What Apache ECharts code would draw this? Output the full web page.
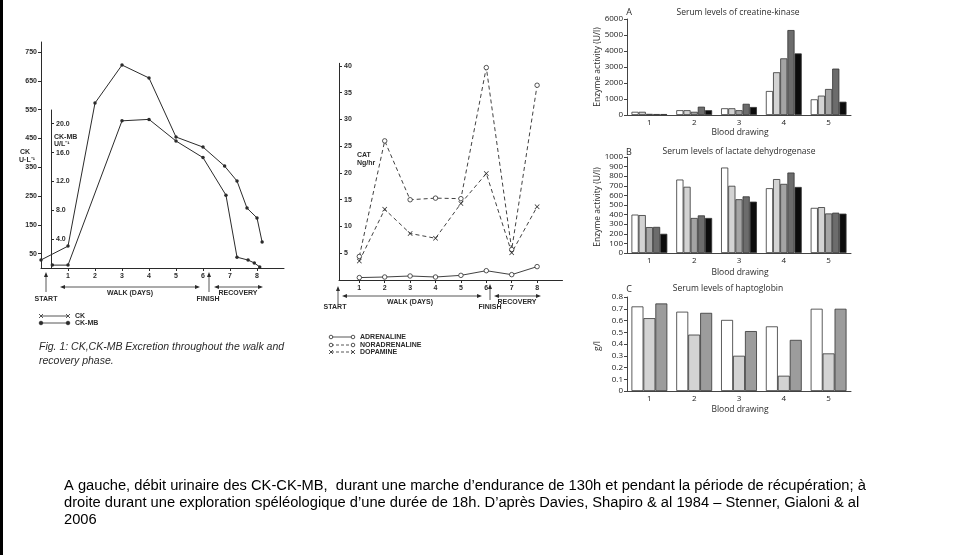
<!DOCTYPE html>
<html><head><meta charset="utf-8">
<script src="https://cdn.jsdelivr.net/npm/echarts@6/dist/echarts.min.js"></script>
<style>html,body{margin:0;padding:0;background:#fff}#c{width:954px;height:555px}</style>
</head><body><div id="c"></div>
<script>
// ---------- DATA ----------
// Left chart (Davies): days vs CK / CK-MB
const ckDays = [0, 1, 2, 3, 4, 5, 6, 6.8, 7.26, 7.63, 8.0, 8.19];
const ckValues = [28, 76, 573, 705, 660, 455, 420, 354, 302, 208, 174, 90];
const ckmbDays = [0.42, 1, 3, 4, 5, 6, 6.85, 7.26, 7.67, 7.9, 8.1];
const ckmbValues = [0.4, 0.4, 20.4, 20.6, 17.6, 15.3, 10.1, 1.5, 1.1, 0.7, 0.15];
const ckTicks = [50, 150, 250, 350, 450, 550, 650, 750];
const ckmbTicks = [4, 8, 12, 16, 20];
const dayTicks = [1, 2, 3, 4, 5, 6, 7, 8];
// Middle chart: catecholamines (Ng/hr)
const catDays = [1, 2, 3, 4, 5, 6, 7, 8];
const adrenaline = [0.45, 0.56, 0.75, 0.56, 0.87, 1.74, 1.0, 2.5];
const noradrenaline = [4.4, 26.0, 15.0, 15.3, 15.2, 39.7, 5.7, 36.4];
const dopamine = [3.55, 13.2, 8.7, 7.8, 14.3, 19.9, 5.1, 13.7];
// Right charts (Stenner)
const drawings = ['1', '2', '3', '4', '5'];
const ckA1 = [200, 300, 420, 1500, 980];
const ckA2 = [200, 300, 420, 2670, 1210];
const ckA3 = [70, 200, 300, 3540, 1625];
const ckA4 = [60, 520, 700, 5310, 2900];
const ckA5 = [60, 300, 500, 3850, 830];
const ldhB1 = [400, 765, 890, 675, 470];
const ldhB2 = [395, 690, 700, 770, 478];
const ldhB3 = [270, 365, 560, 720, 412];
const ldhB4 = [272, 392, 590, 838, 420];
const ldhB5 = [200, 365, 535, 688, 410];
const hpC1 = [0.72, 0.675, 0.605, 0.55, 0.70];
const hpC2 = [0.62, 0.48, 0.30, 0.13, 0.32];
const hpC3 = [0.745, 0.665, 0.51, 0.435, 0.70];

// ---------- STYLE ----------
const INK = '#2b2b2b';
const barColors = ['#ffffff', '#d3d3d3', '#a4a4a4', '#6c6c6c', '#0c0c0c'];
const smallBold = 'bold 7px "Liberation Sans", Arial, sans-serif';
const rFont = '"Open Sans", sans-serif';
const capFont = '14.7px "Liberation Sans", Arial, sans-serif';
const zip = (a, b) => a.map((v, i) => [v, b[i]]);
const crossPath = 'path://M0,1L1,0L5,4L9,0L10,1L6,5L10,9L9,10L5,6L1,10L0,9L4,5Z';

const chart = echarts.init(document.getElementById('c'), null, {renderer: 'canvas'});

// graphic helpers (annotations only)
function T(x, y, s, font, align, extra, fill) {
  return Object.assign({type: 'text', x: x, y: y, silent: true,
    style: {text: s, font: font, fill: fill || INK, align: align || 'left', verticalAlign: 'middle'}}, extra || {});
}
function L(x1, y1, x2, y2, w, dash) {
  return {type: 'line', silent: true, shape: {x1, y1, x2, y2},
    style: {stroke: INK, lineWidth: w || 1, lineDash: dash || null}};
}
function P(points) { return {type: 'polygon', silent: true, shape: {points}, style: {fill: INK}}; }
function hArrow(x1, x2, y) {
  return [L(x1 + 3, y, x2 - 3, y, 0.8), P([[x1, y], [x1 + 5, y - 2], [x1 + 5, y + 2]]), P([[x2, y], [x2 - 5, y - 2], [x2 - 5, y + 2]])];
}
function vArrow(x, yBottom, yTop) {
  return [L(x, yBottom, x, yTop + 3, 0.8), P([[x, yTop], [x - 2, yTop + 5], [x + 2, yTop + 5]])];
}
function circ(x, y, fill) {
  return {type: 'circle', silent: true, shape: {cx: x, cy: y, r: 1.8}, style: {fill: fill ? INK : '#fff', stroke: INK, lineWidth: 0.8}};
}
function xmark(x, y) { return [L(x - 2, y - 2, x + 2, y + 2, 0.8), L(x - 2, y + 2, x + 2, y - 2, 0.8)]; }

const graphics = [
  {type: 'rect', shape: {x: 0, y: 0, width: 3, height: 555}, style: {fill: '#000'}, silent: true},
  // left chart labels
  T(25, 152, 'CK', smallBold, 'center'), T(27, 160, 'U·L⁻¹', smallBold, 'center'),
  T(54, 137, 'CK-MB', smallBold, 'left'), T(54, 144, 'U/L⁻¹', smallBold, 'left'),
  ...vArrow(46, 292, 272), T(46, 299, 'START', smallBold, 'center'),
  ...hArrow(60, 200, 287), T(130, 293, 'WALK (DAYS)', smallBold, 'center'),
  ...vArrow(209, 292, 272), T(208, 299, 'FINISH', smallBold, 'center'),
  ...hArrow(214, 263, 287), T(238, 293, 'RECOVERY', smallBold, 'center'),
  L(41, 316, 68, 316, 0.8), ...xmark(41, 316), ...xmark(68, 316), T(75, 316, 'CK', smallBold, 'left'),
  L(41, 323, 68, 323, 0.8), circ(41, 323, true), circ(68, 323, true), T(75, 323, 'CK-MB', smallBold, 'left'),
  T(39, 347, 'Fig. 1: CK,CK-MB Excretion throughout the walk and', 'italic 10.5px "Liberation Sans", Arial, sans-serif', 'left'),
  T(39, 361, 'recovery phase.', 'italic 10.5px "Liberation Sans", Arial, sans-serif', 'left'),
  // middle chart labels
  T(357, 155, 'CAT', smallBold, 'left'), T(357, 163, 'Ng/hr', smallBold, 'left'),
  ...vArrow(338, 304, 286), T(335, 307, 'START', smallBold, 'center'),
  ...hArrow(342, 482, 296), T(410, 302, 'WALK (DAYS)', smallBold, 'center'),
  ...vArrow(490, 300, 284), T(490, 307, 'FINISH', smallBold, 'center'),
  ...hArrow(494, 541, 296), T(517, 302, 'RECOVERY', smallBold, 'center'),
  L(331, 337, 353, 337, 0.8), circ(331, 337), circ(353, 337), T(360, 337, 'ADRENALINE', smallBold, 'left'),
  L(331, 345, 353, 345, 0.8, [3, 2]), circ(331, 345), circ(353, 345), T(360, 345, 'NORADRENALINE', smallBold, 'left'),
  L(331, 352, 353, 352, 0.8, [3, 2]), ...xmark(331, 352), ...xmark(353, 352), T(360, 352, 'DOPAMINE', smallBold, 'left'),
  // right charts titles
  T(629, 12, 'A', '9px ' + rFont, 'center'), T(738, 13, 'Serum levels of creatine-kinase', '8.5px ' + rFont, 'center'),
  T(629, 152, 'B', '9px ' + rFont, 'center'), T(739, 152, 'Serum levels of lactate dehydrogenase', '8.5px ' + rFont, 'center'),
  T(629, 289, 'C', '9px ' + rFont, 'center'), T(728, 289, 'Serum levels of haptoglobin', '8.5px ' + rFont, 'center'),
  T(740, 133, 'Blood drawing', '8.5px ' + rFont, 'center'),
  T(740, 273, 'Blood drawing', '8.5px ' + rFont, 'center'),
  T(740, 410, 'Blood drawing', '8.5px ' + rFont, 'center'),
  T(598, 67, 'Enzyme activity (U/l)', '8.5px ' + rFont, 'center', {rotation: Math.PI / 2}),
  T(598, 207, 'Enzyme activity (U/l)', '8.5px ' + rFont, 'center', {rotation: Math.PI / 2}),
  T(598, 346, 'g/l', '8.5px ' + rFont, 'center', {rotation: Math.PI / 2}),
  // caption
  T(64, 486, 'A gauche, débit urinaire des CK-CK-MB,  durant une marche d’endurance de 130h et pendant la période de récupération; à', capFont, 'left', null, '#000'),
  T(64, 503, 'droite durant une exploration spéléologique d’une durée de 18h. D’après Davies, Shapiro & al 1984 – Stenner, Gialoni & al', capFont, 'left', null, '#000'),
  T(64, 520, '2006', capFont, 'left', null, '#000')
];

const axLine = {show: true, lineStyle: {color: INK, width: 1}};
const rAxLine = {show: true, lineStyle: {color: '#444', width: 1}};
const rLabel = {color: '#222', fontSize: 8, fontFamily: 'Open Sans', margin: 4, formatter: v => String(v)};

function barSeries(idx, arrs, colors) {
  return arrs.map((d, i) => ({
    type: 'bar', xAxisIndex: idx, yAxisIndex: idx, data: d, barGap: '0%', barCategoryGap: '20%',
    itemStyle: {color: colors[i], borderColor: '#333', borderWidth: 0.8}, silent: true
  }));
}
const hollow = {color: '#fff', borderColor: INK, borderWidth: 0.8};

const option = {
  animation: false,
  backgroundColor: '#fff',
  grid: [
    {left: 41, top: 42, width: 243, height: 226},          // CK
    {left: 51, top: 110, width: 233, height: 158},         // CK-MB
    {left: 339, top: 63.3, width: 223.5, height: 216.7},   // catecholamines
    {left: 627, top: 19, width: 224, height: 96},          // A
    {left: 627, top: 157, width: 224, height: 96},         // B
    {left: 627, top: 297, width: 224, height: 94}          // C
  ],
  xAxis: [
    {gridIndex: 0, type: 'value', min: 0, max: 9, splitLine: {show: false}, axisLine: axLine,
      axisTick: {show: true, length: 3, customValues: dayTicks, lineStyle: {color: INK}},
      axisLabel: {customValues: dayTicks, color: INK, fontSize: 7, fontWeight: 'bold', margin: 5}},
    {gridIndex: 1, type: 'value', min: (51 - 41) / 27, max: 9, show: false},
    {gridIndex: 2, type: 'value', min: 0.2, max: 9, splitLine: {show: false}, axisLine: axLine,
      axisTick: {show: true, length: 3, customValues: catDays, lineStyle: {color: INK}},
      axisLabel: {customValues: catDays, color: INK, fontSize: 7, fontWeight: 'bold', margin: 5}},
    {gridIndex: 3, type: 'category', data: drawings, axisLine: rAxLine, axisTick: {inside: true, length: 5, lineStyle: {color: '#444'}}, axisLabel: rLabel},
    {gridIndex: 4, type: 'category', data: drawings, axisLine: rAxLine, axisTick: {inside: true, length: 5, lineStyle: {color: '#444'}}, axisLabel: rLabel},
    {gridIndex: 5, type: 'category', data: drawings, axisLine: rAxLine, axisTick: {inside: true, length: 5, lineStyle: {color: '#444'}}, axisLabel: rLabel}
  ],
  yAxis: [
    {gridIndex: 0, type: 'value', min: 0, max: 785, splitLine: {show: false}, axisLine: axLine,
      axisTick: {show: true, length: 3, customValues: ckTicks, lineStyle: {color: INK}},
      axisLabel: {customValues: ckTicks, color: INK, fontSize: 7, fontWeight: 'bold', margin: 4}},
    {gridIndex: 1, type: 'value', min: 0, max: 21.9, splitLine: {show: false}, axisLine: axLine,
      axisTick: {show: true, inside: true, length: 3, customValues: ckmbTicks, lineStyle: {color: INK}},
      axisLabel: {inside: true, customValues: ckmbTicks, color: INK, fontSize: 7, fontWeight: 'bold', margin: 5, formatter: v => v.toFixed(1)}},
    {gridIndex: 2, type: 'value', min: 0, max: 40.5, interval: 5, splitLine: {show: false}, axisLine: axLine,
      axisTick: {show: true, inside: true, length: 3, lineStyle: {color: INK}},
      axisLabel: {inside: true, color: INK, fontSize: 7, fontWeight: 'bold', margin: 5, formatter: v => v === 0 ? '' : String(v)}},
    {gridIndex: 3, type: 'value', min: 0, max: 6000, interval: 1000, splitLine: {show: false}, axisLine: rAxLine,
      axisTick: {show: true, length: 3, lineStyle: {color: '#444'}}, axisLabel: rLabel},
    {gridIndex: 4, type: 'value', min: 0, max: 1000, interval: 100, splitLine: {show: false}, axisLine: rAxLine,
      axisTick: {show: true, length: 3, lineStyle: {color: '#444'}}, axisLabel: rLabel},
    {gridIndex: 5, type: 'value', min: 0, max: 0.8, interval: 0.1, splitLine: {show: false}, axisLine: rAxLine,
      axisTick: {show: true, length: 3, lineStyle: {color: '#444'}}, axisLabel: Object.assign({}, rLabel, {formatter: v => v === 0 ? '0' : v.toFixed(1)})}
  ],
  series: [
    {type: 'line', name: 'CK', xAxisIndex: 0, yAxisIndex: 0, data: zip(ckDays, ckValues), clip: false,
      symbol: 'circle', symbolSize: 3.5, lineStyle: {color: INK, width: 1}, itemStyle: {color: INK}, silent: true},
    {type: 'line', name: 'CK-MB', xAxisIndex: 1, yAxisIndex: 1, data: zip(ckmbDays, ckmbValues), clip: false,
      symbol: 'circle', symbolSize: 3.5, lineStyle: {color: INK, width: 1}, itemStyle: {color: INK}, silent: true},
    {type: 'line', name: 'ADRENALINE', xAxisIndex: 2, yAxisIndex: 2, data: zip(catDays, adrenaline),
      symbol: 'circle', symbolSize: 4.5, lineStyle: {color: INK, width: 0.9}, itemStyle: hollow, silent: true},
    {type: 'line', name: 'NORADRENALINE', xAxisIndex: 2, yAxisIndex: 2, data: zip(catDays, noradrenaline),
      symbol: 'circle', symbolSize: 4.5, lineStyle: {color: INK, width: 0.9, type: [4, 3]}, itemStyle: hollow, silent: true},
    {type: 'line', name: 'DOPAMINE', xAxisIndex: 2, yAxisIndex: 2, data: zip(catDays, dopamine),
      symbol: crossPath, symbolSize: 5, lineStyle: {color: INK, width: 0.9, type: [4, 3]}, itemStyle: {color: INK}, silent: true},
    ...barSeries(3, [ckA1, ckA2, ckA3, ckA4, ckA5], barColors),
    ...barSeries(4, [ldhB1, ldhB2, ldhB3, ldhB4, ldhB5], barColors),
    ...barSeries(5, [hpC1, hpC2, hpC3], ['#ffffff', '#d3d3d3', '#9c9c9c'])
  ],
  graphic: graphics
};
chart.setOption(option);
</script></body></html>
